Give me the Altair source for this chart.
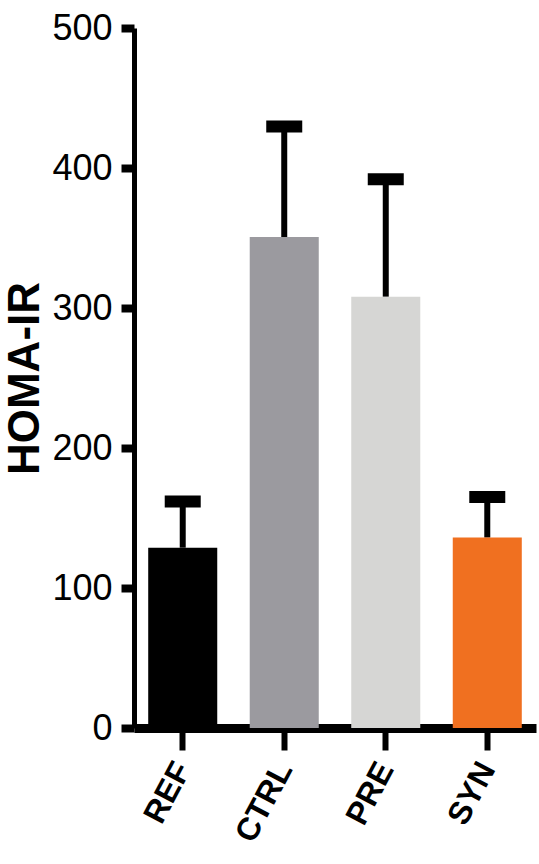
import altair as alt
import pandas as pd

# Group means and SEM for HOMA-IR
groups = ["REF", "CTRL", "PRE", "SYN"]
means = [128.8, 350.7, 308.0, 136.0]
sems = [33.0, 79.0, 84.0, 29.0]
colors = ["#000000", "#9b9a9f", "#d6d6d4", "#f07020"]
y_ticks = [0, 100, 200, 300, 400, 500]

df = pd.DataFrame({
    "group": groups,
    "mean": means,
    "upper": [m + s for m, s in zip(means, sems)],
    "color": colors,
})

FONT = "Liberation Sans, Arial, sans-serif"

x_enc = alt.X(
    "group:N",
    sort=groups,
    scale=alt.Scale(paddingInner=0.32, paddingOuter=0.14),
    axis=alt.Axis(
        title=None,
        labelAngle=-62,
        labelAlign="right",
        labelBaseline="middle",
        labelFont=FONT,
        labelFontSize=32,
        labelFontWeight="bold",
        labelColor="black",
        labelPadding=14,
        tickSize=22,
        tickWidth=6,
        tickColor="black",
        domainWidth=9,
        domainColor="black",
    ),
)

y_scale = alt.Scale(domain=[0, 500], nice=False)

bars = alt.Chart(df).mark_bar().encode(
    x=x_enc,
    y=alt.Y(
        "mean:Q",
        scale=y_scale,
        axis=alt.Axis(
            title="HOMA-IR",
            titleFont=FONT,
            titleFontSize=44,
            titleFontWeight="bold",
            titleColor="black",
            titlePadding=4,
            values=y_ticks,
            grid=False,
            labelFont=FONT,
            labelFontSize=36,
            labelColor="black",
            labelPadding=9,
            tickSize=13,
            tickWidth=8,
            tickColor="black",
            domainWidth=5,
            domainColor="black",
        ),
    ),
    color=alt.Color("color:N", scale=None),
)

whiskers = alt.Chart(df).mark_rule(color="black", strokeWidth=6).encode(
    x=alt.X("group:N", sort=groups),
    y="mean:Q",
    y2="upper:Q",
)

caps = alt.Chart(df).mark_tick(color="black", thickness=12, size=36, opacity=1).encode(
    x=alt.X("group:N", sort=groups),
    y=alt.Y("upper:Q", scale=y_scale),
)

chart = (
    alt.layer(whiskers, bars, caps)
    .properties(
        width=402,
        height=700,
        padding={"left": 134, "top": 28, "right": 3, "bottom": 136},
        autosize=alt.AutoSizeParams(type="none"),
    )
    .configure(background="white", view=alt.ViewConfig(stroke=None))
)

chart.save("out.html", embed_options={"renderer": "svg", "actions": False})
